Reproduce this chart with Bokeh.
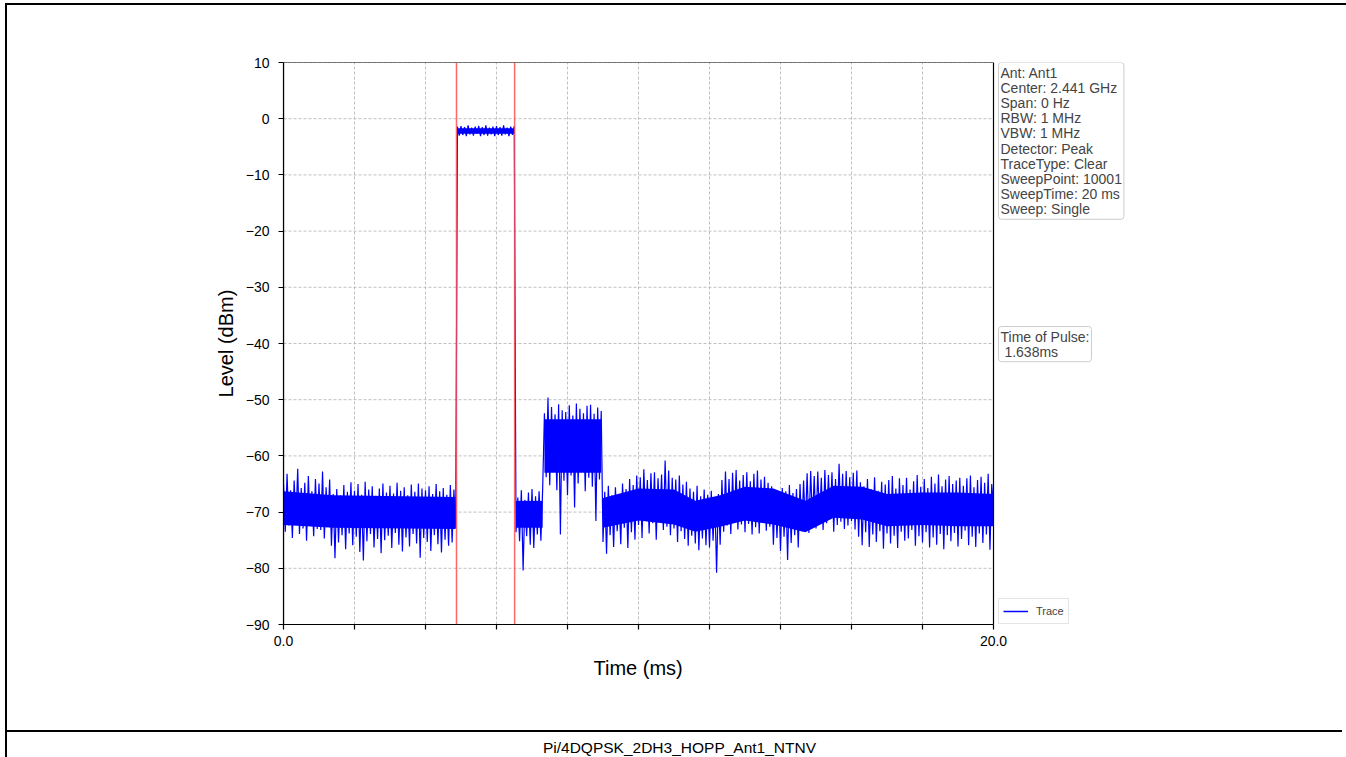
from bokeh.plotting import figure
from bokeh.models import (Span, Label, BoxAnnotation, Legend, LegendItem,
                          FixedTicker, ColumnDataSource, Range1d, Div, Title)
from bokeh.layouts import column
from bokeh.embed import file_html
from bokeh.resources import INLINE
import numpy as np

# ---------------- data ----------------
sweep_time_ms = 20.0
# trace level (dBm), evenly spaced over the sweep (0.05 ms per value)
level_dbm = [
    # 0 ms
    -65.0, -73.5, -63.2, -72.4, -66.1, -74.6, -64.4, -71.8, -62.3, -73.9,
    -65.7, -72.9, -64.8, -75.1, -63.6, -72.2, -66.3, -74.3, -64.1, -73.0,
    # 1 ms
    -64.9, -73.2, -62.8, -74.7, -65.6, -72.6, -64.2, -76.0, -66.8, -78.2,
    -65.9, -75.4, -67.0, -74.1, -65.2, -76.6, -66.4, -73.8, -64.7, -75.9,
    # 2 ms
    -66.2, -74.4, -65.0, -77.1, -66.9, -78.6, -64.6, -75.2, -66.0, -73.9,
    -65.4, -76.3, -67.1, -74.8, -65.8, -77.3, -64.9, -75.0, -66.5, -74.2,
    # 3 ms
    -65.3, -76.4, -66.7, -73.7, -64.8, -75.8, -66.2, -77.0, -65.6, -74.5,
    -67.0, -76.1, -65.1, -73.9, -66.4, -75.6, -64.9, -78.1, -65.8, -74.6,
    # 4 ms
    -66.1, -75.3, -65.4, -76.9, -66.8, -74.1, -65.0, -75.7, -66.3, -77.2,
    -65.7, -74.9, -66.9, -76.0, -65.2, -75.4, -66.0, -72.8, -1.4, -3.0,
    # 5 ms
    -1.3, -2.9, -1.5, -3.1, -1.2, -2.8, -1.6, -3.0, -1.4, -2.7,
    -1.3, -3.1, -1.5, -2.9, -1.2, -3.0, -1.6, -2.8, -1.4, -3.1,
    # 6 ms
    -1.3, -2.9, -1.5, -3.0, -1.2, -2.8, -1.6, -3.1, -1.4, -2.9,
    -1.3, -73.6, -67.4, -75.2, -66.1, -80.4, -67.8, -74.3, -66.5, -75.8,
    # 7 ms
    -65.9, -76.4, -67.2, -74.0, -66.3, -75.1, -66.0, -52.4, -63.8, -49.6,
    -65.2, -51.3, -62.7, -52.6, -66.1, -50.8, -74.0, -51.9, -64.4, -52.2,
    # 8 ms
    -67.0, -51.0, -63.5, -52.8, -69.2, -50.7, -64.9, -51.6, -62.8, -52.4,
    -66.3, -51.1, -63.9, -50.9, -65.5, -52.5, -71.6, -51.4, -64.2, -52.0,
    # 9 ms
    -75.3, -66.4, -77.4, -65.3, -74.1, -67.0, -76.2, -65.6, -73.4, -66.8,
    -75.7, -64.9, -72.8, -65.9, -76.4, -64.1, -73.6, -65.2, -74.9, -63.5,
    # 10 ms
    -72.3, -63.8, -74.6, -62.4, -71.5, -64.3, -73.8, -63.1, -72.0, -62.9,
    -74.9, -64.0, -71.7, -63.3, -73.2, -60.8, -72.6, -62.6, -74.1, -63.9,
    # 11 ms
    -72.9, -64.2, -75.3, -63.5, -73.4, -65.1, -74.8, -64.6, -76.0, -65.8,
    -74.2, -66.4, -75.6, -65.3, -76.8, -67.2, -74.7, -66.0, -75.9, -66.9,
    # 12 ms
    -76.3, -66.2, -75.1, -67.5, -80.8, -66.8, -75.8, -64.3, -73.5, -62.8,
    -72.4, -64.1, -73.9, -63.0, -71.9, -62.5, -73.1, -64.4, -72.2, -63.4,
    # 13 ms
    -73.6, -62.9, -72.1, -64.5, -74.0, -63.2, -72.7, -62.6, -73.8, -64.2,
    -71.9, -63.7, -73.3, -64.8, -72.6, -65.4, -75.8, -66.1, -74.6, -66.5,
    # 14 ms
    -76.9, -65.7, -74.4, -66.3, -78.5, -65.2, -75.5, -66.6, -74.1, -65.9,
    -76.3, -65.0, -73.4, -64.4, -72.5, -63.1, -73.7, -62.7, -71.8, -63.6,
    # 15 ms
    -72.9, -62.8, -71.4, -63.9, -73.2, -62.5, -72.0, -63.4, -71.2, -62.9,
    -73.5, -64.1, -72.3, -61.4, -71.7, -63.2, -73.0, -62.7, -72.4, -63.8,
    # 16 ms
    -71.6, -63.0, -73.1, -62.6, -74.4, -64.7, -75.9, -65.4, -73.6, -64.1,
    -76.2, -65.9, -74.0, -63.8, -75.3, -66.2, -73.4, -64.6, -76.5, -65.1,
    # 17 ms
    -73.8, -64.3, -75.6, -63.6, -74.2, -65.8, -76.4, -64.0, -73.5, -65.2,
    -75.1, -63.9, -74.7, -66.0, -73.2, -64.5, -76.0, -63.4, -74.3, -65.5,
    # 18 ms
    -75.4, -64.1, -73.6, -65.7, -76.3, -63.7, -74.5, -64.9, -75.8, -63.3,
    -73.9, -65.4, -76.6, -64.2, -74.1, -63.6, -75.2, -65.0, -73.7, -64.4,
    # 19 ms
    -76.1, -63.9, -74.8, -65.3, -73.3, -64.0, -75.9, -63.5, -74.4, -65.6,
    -76.2, -64.3, -73.8, -63.7, -75.5, -64.8, -74.0, -63.2, -76.7, -65.0,
    # 20 ms
    -69.0,
]
nan = float("nan")
# dense (solid) core of the trace band; NaN separates the segments
core_t_ms = [0.0, 1.4, 4.85, nan, 4.9, 6.5, nan, 6.55, 7.3, nan, 7.35, 8.95, nan,
             9.0, 10.0, 11.0, 11.6, 12.3, 13.0, 13.8, 14.7, 15.5, 16.3, 17.0,
             18.0, 19.0, 20.0]
core_lo_dbm = [-72.3, -72.8, -73.0, nan, -2.7, -2.7, nan, -72.8, -72.8, nan,
               -63.0, -63.0, nan, -72.8, -71.5, -72.2, -73.5, -72.6, -71.5,
               -72.2, -73.6, -71.0, -71.3, -72.5, -72.3, -72.5, -72.5]
core_hi_dbm = [-66.3, -67.0, -67.3, nan, -1.7, -1.7, nan, -68.0, -68.0, nan,
               -53.5, -53.5, nan, -67.5, -65.8, -66.0, -68.0, -67.0, -65.5,
               -65.8, -68.0, -65.3, -65.5, -66.8, -66.5, -66.5, -66.8]

pulse_start_ms = 4.873
pulse_stop_ms = 6.511
pulse_time_text = "1.638ms"

y_ticks = [-90, -80, -70, -60, -50, -40, -30, -20, -10, 0, 10]
x_ticks = [0, 2, 4, 6, 8, 10, 12, 14, 16, 18, 20]
x_tick_labels = {0: "0.0", 20: "20.0"}

info_lines = ["Ant: Ant1", "Center: 2.441 GHz", "Span: 0 Hz", "RBW: 1 MHz",
              "VBW: 1 MHz", "Detector: Peak", "TraceType: Clear",
              "SweepPoint: 10001", "SweepTime: 20 ms", "Sweep: Single"]
caption = "Pi/4DQPSK_2DH3_HOPP_Ant1_NTNV"
x_label = "Time (ms)"
y_label = "Level (dBm)"

# ---------------- layout constants ----------------
FONT = "Liberation Sans"
CHART_W = 710            # px for 0..20 ms
FRAME_W = 847            # frame extends right to hold the info boxes
FRAME_H = 560
x_end = sweep_time_ms * FRAME_W / CHART_W

t_ms = np.linspace(0.0, sweep_time_ms, len(level_dbm))
src = ColumnDataSource(dict(t=t_ms, lvl=level_dbm))

p = figure(frame_width=FRAME_W, frame_height=FRAME_H,
           min_border_left=276, min_border_right=212,
           min_border_top=57, min_border_bottom=108,
           x_range=Range1d(0, x_end), y_range=Range1d(-90, 10),
           output_backend="svg", toolbar_location=None,
           background_fill_color="white", border_fill_color="white",
           styles={"border-bottom": "2px solid black"})
p.outline_line_color = None

p.xgrid.grid_line_color = "#b0b0b0"
p.xgrid.grid_line_dash = "3 2"
p.xgrid.grid_line_width = 0.8
p.ygrid.visible = False

p.xaxis.ticker = FixedTicker(ticks=x_ticks)
p.yaxis.ticker = FixedTicker(ticks=y_ticks)
p.xaxis.bounds = (0, sweep_time_ms)
p.xaxis.major_label_overrides = {t: x_tick_labels.get(t, "") for t in x_ticks}
p.yaxis.major_label_overrides = {t: str(t).replace("-", "\u2212") for t in y_ticks}

for ax in (p.xaxis, p.yaxis):
    ax.axis_line_color = "black"
    ax.axis_line_width = 1.2
    ax.major_tick_line_color = "black"
    ax.major_tick_line_width = 1.2
    ax.major_tick_out = 5
    ax.major_tick_in = 0
    ax.minor_tick_line_color = None
    ax.major_label_text_font = FONT
    ax.major_label_text_font_size = "14px"
    ax.major_label_text_color = "black"
    ax.axis_label_text_font = FONT
    ax.axis_label_text_font_size = "20px"
    ax.axis_label_text_font_style = "normal"
    ax.axis_label_text_color = "black"

p.yaxis.axis_label = y_label
p.xaxis.major_label_standoff = 6
p.yaxis.major_label_standoff = 9
p.yaxis.axis_label_standoff = 6

# x-axis title, centred under the 0..20 ms chart (not the wider frame)
x_title_w = 90
p.add_layout(Title(text=x_label, align="left",
                   offset=(CHART_W - x_title_w) / 2,
                   text_font=FONT, text_font_size="20px",
                   text_font_style="normal", text_color="black",
                   standoff=12), "below")

# horizontal grid lines, limited to the chart box
p.segment(x0=[0] * len(y_ticks), x1=[sweep_time_ms] * len(y_ticks),
          y0=y_ticks, y1=y_ticks, line_color="#b0b0b0", line_dash="3 2",
          line_width=0.8)

# solid core of the trace band, one area per segment
seg_t, seg_lo, seg_hi = [], [], []
for t, lo, hi in zip(core_t_ms + [nan], core_lo_dbm + [nan], core_hi_dbm + [nan]):
    if np.isnan(t):
        p.varea(x=seg_t, y1=seg_lo, y2=seg_hi, fill_color="#0000ff", fill_alpha=1.0)
        seg_t, seg_lo, seg_hi = [], [], []
    else:
        seg_t.append(t); seg_lo.append(lo); seg_hi.append(hi)

trace = p.line("t", "lvl", source=src, line_color="#0000ff", line_width=1.2)

for loc in (pulse_start_ms, pulse_stop_ms):
    p.add_layout(Span(location=loc, dimension="height", line_color="#ff4d4d",
                      line_width=1.5, line_alpha=0.85))

# chart box
p.add_layout(BoxAnnotation(left=0, right=sweep_time_ms, bottom=-90, top=10,
                           fill_alpha=0, line_color="black", line_width=1.2,
                           line_alpha=1.0))

# info boxes (frame-relative screen units)
p.add_layout(Label(x=715, y=562, x_units="screen", y_units="screen",
                   text="\n".join(info_lines), text_font=FONT,
                   text_font_size="14px", text_line_height=0.95,
                   text_baseline="top", text_align="left",
                   background_fill_color="white", border_line_color="#cccccc",
                   border_line_width=1, border_radius=3, padding=2))

p.add_layout(Label(x=715, y=298, x_units="screen", y_units="screen",
                   text="Time of Pulse:\n\u00a0" + pulse_time_text, text_font=FONT,
                   text_font_size="14px", text_line_height=0.95,
                   text_baseline="top", text_align="left",
                   background_fill_color="white", border_line_color="#cccccc",
                   border_line_width=1, border_radius=3, padding=2))

legend_line = p.line([nan], [nan], line_color="#0000ff", line_width=1.5)
legend = Legend(items=[LegendItem(label="Trace", renderers=[legend_line])],
                location=(715, 0), label_text_font=FONT,
                label_text_font_size="11px", border_line_color="#cccccc",
                border_line_width=1, padding=4, spacing=0, margin=0,
                glyph_width=25, glyph_height=16, label_height=16,
                label_standoff=8, background_fill_alpha=1.0)
p.add_layout(legend)

cap = Div(text=('<div style="width:1335px;text-align:center;'
                'font-family:\'Liberation Sans\';font-size:15.5px;'
                'line-height:22px;color:black;">' + caption + '</div>'),
          width=1335, height=24)

root = column(p, cap, spacing=0,
              styles={"border-left": "2px solid black",
                      "border-right": "2px solid black",
                      "border-top": "2px solid black",
                      "margin-left": "5px", "margin-top": "3px"})

open("out.html", "w").write(file_html(root, INLINE))
